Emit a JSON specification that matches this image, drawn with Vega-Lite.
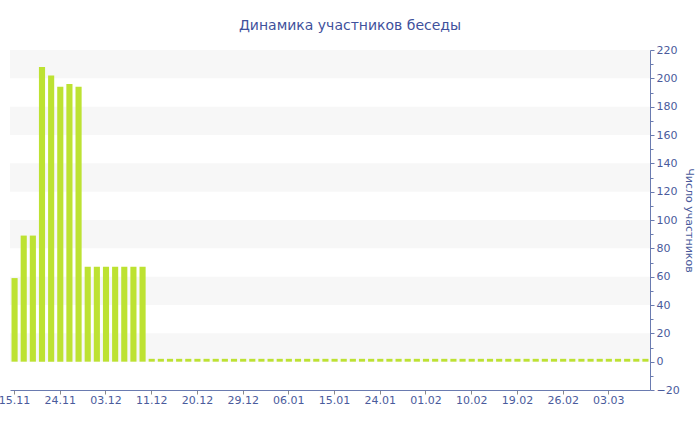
{
  "$schema": "https://vega.github.io/schema/vega-lite/v6.json",
  "width": 640,
  "height": 340,
  "autosize": {"type": "none"},
  "padding": {"left": 10, "top": 50, "right": 50, "bottom": 40},
  "background": "white",
  "config": {
    "view": {"stroke": null},
    "font": "DejaVu Sans",
    "axis": {"labelOverlap": false, "labelSeparation": 0}
  },
  "title": {
    "text": "Динамика участников беседы",
    "fontSize": 14,
    "fontWeight": "normal",
    "color": "#3f519c",
    "font": "DejaVu Sans",
    "anchor": "middle",
    "dx": 20,
    "offset": 11
  },
  "datasets": {
    "bands": [
      {"lo": 0, "hi": 20},
      {"lo": 40, "hi": 60},
      {"lo": 80, "hi": 100},
      {"lo": 120, "hi": 140},
      {"lo": 160, "hi": 180},
      {"lo": 200, "hi": 220}
    ],
    "members": [
      {"i": 0, "v": 59}, {"i": 1, "v": 89}, {"i": 2, "v": 89}, {"i": 3, "v": 208},
      {"i": 4, "v": 202}, {"i": 5, "v": 194}, {"i": 6, "v": 196}, {"i": 7, "v": 194},
      {"i": 8, "v": 67}, {"i": 9, "v": 67}, {"i": 10, "v": 67}, {"i": 11, "v": 67},
      {"i": 12, "v": 67}, {"i": 13, "v": 67}, {"i": 14, "v": 67}, {"i": 15, "v": 2},
      {"i": 16, "v": 2}, {"i": 17, "v": 2}, {"i": 18, "v": 2}, {"i": 19, "v": 2},
      {"i": 20, "v": 2}, {"i": 21, "v": 2}, {"i": 22, "v": 2}, {"i": 23, "v": 2},
      {"i": 24, "v": 2}, {"i": 25, "v": 2}, {"i": 26, "v": 2}, {"i": 27, "v": 2},
      {"i": 28, "v": 2}, {"i": 29, "v": 2}, {"i": 30, "v": 2}, {"i": 31, "v": 2},
      {"i": 32, "v": 2}, {"i": 33, "v": 2}, {"i": 34, "v": 2}, {"i": 35, "v": 2},
      {"i": 36, "v": 2}, {"i": 37, "v": 2}, {"i": 38, "v": 2}, {"i": 39, "v": 2},
      {"i": 40, "v": 2}, {"i": 41, "v": 2}, {"i": 42, "v": 2}, {"i": 43, "v": 2},
      {"i": 44, "v": 2}, {"i": 45, "v": 2}, {"i": 46, "v": 2}, {"i": 47, "v": 2},
      {"i": 48, "v": 2}, {"i": 49, "v": 2}, {"i": 50, "v": 2}, {"i": 51, "v": 2},
      {"i": 52, "v": 2}, {"i": 53, "v": 2}, {"i": 54, "v": 2}, {"i": 55, "v": 2},
      {"i": 56, "v": 2}, {"i": 57, "v": 2}, {"i": 58, "v": 2}, {"i": 59, "v": 2},
      {"i": 60, "v": 2}, {"i": 61, "v": 2}, {"i": 62, "v": 2}, {"i": 63, "v": 2},
      {"i": 64, "v": 2}, {"i": 65, "v": 2}, {"i": 66, "v": 2}, {"i": 67, "v": 2},
      {"i": 68, "v": 2}, {"i": 69, "v": 2}
    ]
  },
  "layer": [
    {
      "data": {"name": "bands"},
      "mark": {"type": "rect", "color": "#f7f7f7"},
      "encoding": {
        "y": {
          "field": "lo",
          "type": "quantitative",
          "scale": {"domain": [-20, 220], "nice": false, "zero": false},
          "axis": {
            "orient": "right",
            "title": "Число участников",
            "titleFontSize": 11,
            "titleFontWeight": "normal",
            "titleColor": "#4a5b9c",
            "titlePadding": 4,
            "values": [-20, -10, 0, 10, 20, 30, 40, 50, 60, 70, 80, 90, 100, 110, 120, 130, 140, 150, 160, 170, 180, 190, 200, 210, 220],
            "labelExpr": "datum.value % 20 == 0 ? datum.label : ''",
            "labelFontSize": 11,
            "labelColor": "#4a5b9c",
            "labelPadding": 2,
            "labelFlush": false,
            "labelOverlap": false,
            "labelSeparation": 0,
            "domainColor": "#6a7bb0",
            "tickColor": "#6a7bb0",
            "tickSize": {"condition": {"test": "datum.value % 20 == 0", "value": 4}, "value": 3},
            "grid": false
          }
        },
        "y2": {"field": "hi"}
      }
    },
    {
      "data": {"name": "members"},
      "mark": {"type": "bar", "color": "#bde232"},
      "encoding": {
        "x": {
          "field": "i",
          "type": "ordinal",
          "sort": null,
          "scale": {"paddingInner": 0.33, "paddingOuter": 0.165},
          "axis": {
            "title": null,
            "values": [0, 5, 10, 15, 20, 25, 30, 35, 40, 45, 50, 55, 60, 65],
            "labelExpr": "['15.11','24.11','03.12','11.12','20.12','29.12','06.01','15.01','24.01','01.02','10.02','19.02','26.02','03.03'][datum.value / 5]",
            "labelAngle": 0,
            "labelFontSize": 11,
            "labelColor": "#4a5b9c",
            "labelPadding": 0,
            "domainColor": "#6a7bb0",
            "tickColor": "#8a8a8a",
            "tickSize": 4,
            "grid": false
          }
        },
        "y": {
          "field": "v",
          "type": "quantitative",
          "scale": {"domain": [-20, 220], "nice": false, "zero": false},
          "axis": {
            "orient": "right",
            "title": "Число участников",
            "titleFontSize": 11,
            "titleFontWeight": "normal",
            "titleColor": "#4a5b9c",
            "titlePadding": 4,
            "values": [-20, -10, 0, 10, 20, 30, 40, 50, 60, 70, 80, 90, 100, 110, 120, 130, 140, 150, 160, 170, 180, 190, 200, 210, 220],
            "labelExpr": "datum.value % 20 == 0 ? datum.label : ''",
            "labelFontSize": 11,
            "labelColor": "#4a5b9c",
            "labelPadding": 2,
            "labelFlush": false,
            "labelOverlap": false,
            "labelSeparation": 0,
            "domainColor": "#6a7bb0",
            "tickColor": "#6a7bb0",
            "tickSize": {"condition": {"test": "datum.value % 20 == 0", "value": 4}, "value": 3},
            "grid": false
          }
        }
      }
    }
  ]
}
